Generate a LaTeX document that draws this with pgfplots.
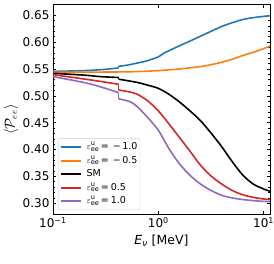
\documentclass[border=0pt]{standalone}
\usepackage{fontspec}
\setmainfont{DejaVu Sans}
\setsansfont{DejaVu Sans}
\usepackage{pgfplots}
\pgfplotsset{compat=1.18}
\definecolor{tabblue}{HTML}{1F77B4}
\definecolor{taborange}{HTML}{FF7F0E}
\definecolor{tabred}{HTML}{D62728}
\definecolor{tabpurple}{HTML}{9467BD}
\newcommand{\eps}{$\varepsilon^{\mathrm{u}}_{\mathrm{ee}}$}
\begin{document}
\begin{tikzpicture}
\begin{axis}[
  name=ax,
  scale only axis, width=217pt, height=210pt,
  xmode=log, log basis x=10,
  xmin=0.1, xmax=11.5, ymin=0.28, ymax=0.671,
  xtick={0.1,1,10},
  xticklabels={10\textsuperscript{−1},10\textsuperscript{0},10\textsuperscript{1}},
  ytick={0.30,0.35,0.40,0.45,0.50,0.55,0.60,0.65},
  minor y tick num=4,
  yticklabel style={/pgf/number format/.cd, fixed, fixed zerofill, precision=2},
  /pgf/number format/assume math mode=true,
  tick align=inside, tick pos=both,
  xticklabel pos=lower, yticklabel pos=left,
  major tick length=3.5pt, minor tick length=2pt,
  every tick/.style={black, line width=0.6pt},
  axis line style={line width=0.8pt},
  ticklabel style={font=\fontsize{12}{14}\selectfont},
  label style={font=\fontsize{12.5}{15}\selectfont},
  xlabel={\textit{E}\textsubscript{\textit{ν}} [MeV]},
  ylabel={$\langle \mathcal{P}_{ee}\rangle$},
  ylabel style={font=\fontsize{13.5}{16}\selectfont, at={(axis description cs:-0.193,0.45)}, anchor=center},
  legend cell align=left,
  legend style={at={(rel axis cs:0,0)}, anchor=south west, xshift=5pt, yshift=4pt,
    draw=black!20, fill=white, rounded corners=2pt, font=\fontsize{9.5}{10}\selectfont,
    inner xsep=1.5pt, inner ysep=2.2pt, row sep=0.5pt,
    nodes={inner sep=1pt, text height=8pt, text depth=3pt}},
  legend image code/.code={\draw[#1] (0pt,0pt) -- (20pt,0pt); \path (24pt,0pt);},
  every axis plot/.append style={line width=1.6pt},
]
% blue
\addplot[tabblue, smooth, forget plot] coordinates {
(0.1,0.5455) (0.2,0.547) (0.3,0.549) (0.42,0.552)};
\addplot[tabblue, forget plot] coordinates {(0.42,0.552) (0.42,0.555)};
\addplot[tabblue, smooth, forget plot] coordinates {
(0.42,0.555) (0.5,0.557) (0.63,0.561) (0.79,0.5655) (1.0,0.5725) (1.12,0.579)
(1.26,0.584) (1.58,0.593) (2.0,0.602) (2.51,0.611) (3.16,0.620) (3.98,0.629)
(5.01,0.636) (6.31,0.642) (7.94,0.6455) (10.0,0.648) (11.5,0.649)};
% orange
\addplot[taborange, smooth, forget plot] coordinates {
(0.1,0.5438) (0.42,0.5445) (0.63,0.5452) (1.0,0.547) (1.58,0.550) (2.51,0.5545)
(3.16,0.558) (3.98,0.5625) (5.01,0.568) (6.31,0.575) (7.94,0.581) (10.0,0.588)
(11.5,0.5925)};
% black
\addplot[black, smooth, forget plot] coordinates {
(0.1,0.542) (0.2,0.5385) (0.28,0.5358) (0.42,0.5342)};
\addplot[black, forget plot] coordinates {(0.42,0.5342) (0.42,0.531)};
\addplot[black, smooth, forget plot] coordinates {
(0.42,0.531) (0.63,0.525) (0.79,0.520) (1.0,0.514) (1.26,0.503) (1.58,0.489)
(2.0,0.472) (2.51,0.454) (3.16,0.431) (3.98,0.406) (5.01,0.378) (6.31,0.353)
(7.94,0.336) (10.0,0.3266) (11.5,0.3223)};
% red
\addplot[tabred, smooth, forget plot] coordinates {
(0.1,0.5395) (0.195,0.5315) (0.28,0.527) (0.42,0.5215)};
\addplot[tabred, forget plot] coordinates {(0.42,0.5215) (0.42,0.511)};
\addplot[tabred, smooth, forget plot] coordinates {
(0.42,0.511) (0.54,0.507) (0.63,0.503) (0.79,0.491) (1.0,0.472) (1.26,0.448)
(1.58,0.423) (2.0,0.397) (2.51,0.371) (3.16,0.351) (3.98,0.336) (5.01,0.324)
(6.31,0.316) (7.94,0.311) (10.0,0.308) (11.5,0.3067)};
% purple
\addplot[tabpurple, smooth, forget plot] coordinates {
(0.1,0.5358) (0.195,0.525) (0.28,0.517) (0.42,0.506)};
\addplot[tabpurple, forget plot] coordinates {(0.42,0.506) (0.42,0.4945)};
\addplot[tabpurple, smooth, forget plot] coordinates {
(0.42,0.4945) (0.54,0.489) (0.63,0.480) (0.79,0.460) (1.0,0.436) (1.26,0.402)
(1.58,0.374) (2.0,0.352) (2.51,0.336) (3.16,0.324) (3.98,0.315) (5.01,0.310)
(6.31,0.307) (7.94,0.305) (10.0,0.3035) (11.5,0.303)};
% legend
\addlegendimage{tabblue, line width=1.8pt}
\addlegendentry{\eps\kern1.5pt=\kern4pt−\kern1.5pt1.0}
\addlegendimage{taborange, line width=1.8pt}
\addlegendentry{\eps\kern1.5pt=\kern4pt−\kern1.5pt0.5}
\addlegendimage{black, line width=1.8pt}
\addlegendentry{SM}
\addlegendimage{tabred, line width=1.8pt}
\addlegendentry{\eps\kern1.5pt=\kern2pt0.5}
\addlegendimage{tabpurple, line width=1.8pt}
\addlegendentry{\eps\kern1.5pt=\kern2pt1.0}
\end{axis}
\pgfresetboundingbox
\path ([shift={(-53pt,-49pt)}]ax.south west) rectangle ([shift={(4pt,4pt)}]ax.north east);
\end{tikzpicture}
\end{document}
